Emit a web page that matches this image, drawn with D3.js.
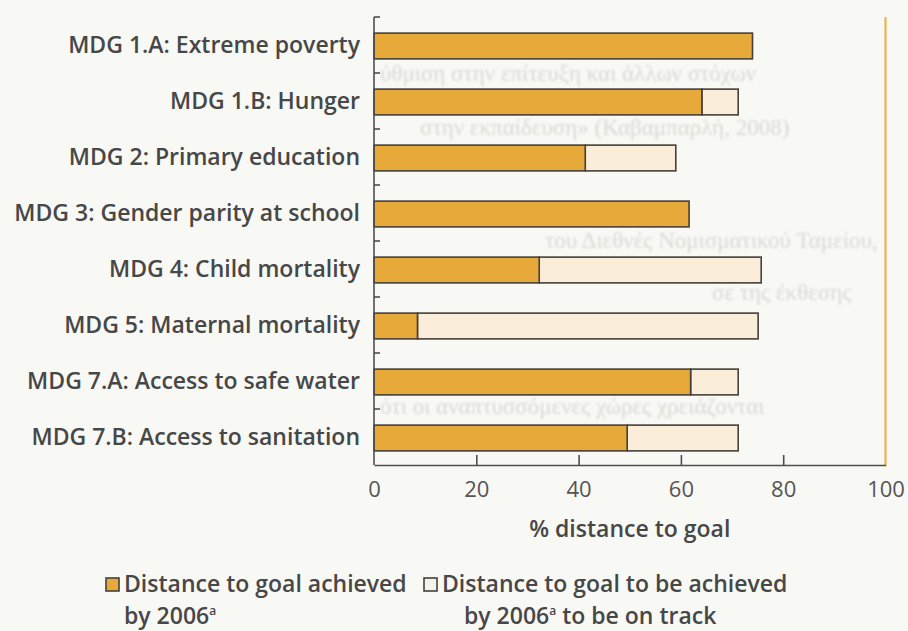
<!DOCTYPE html>
<html>
<head>
<meta charset="utf-8">
<script src="https://cdn.jsdelivr.net/npm/d3@7"></script>
<style>
  html, body { margin: 0; padding: 0; background: #f8f8f5; }
  svg { display: block; }
</style>
</head>
<body>
<svg id="chart" width="908" height="631"></svg>
<script>
// Millennium Development Goals: share of the distance to each goal covered by 2006
const categories = [
  "MDG 1.A: Extreme poverty",
  "MDG 1.B: Hunger",
  "MDG 2: Primary education",
  "MDG 3: Gender parity at school",
  "MDG 4: Child mortality",
  "MDG 5: Maternal mortality",
  "MDG 7.A: Access to safe water",
  "MDG 7.B: Access to sanitation"
];

// % of distance to goal already achieved by 2006
const achieved = [74.0, 64.1, 41.3, 61.6, 32.3, 8.5, 61.9, 49.5];

// further % that should have been achieved by 2006 to be on track
const toBeAchieved = [0, 7.1, 17.7, 0, 43.4, 66.6, 9.3, 21.7];

const xTicks = [0, 20, 40, 60, 80, 100];
const xTitle = "% distance to goal";
const legendLines = [
  ["Distance to goal achieved", "by 2006"],
  ["Distance to goal to be achieved", "by 2006", " to be on track"]
];

// faint lines of text showing through the paper, between the bars
const showThrough = [
  ["ύθμιση στην επίτευξη και άλλων στόχων", 380, 81],
  ["στην εκπαίδευση» (Καβαμπαρλή, 2008)", 420, 135],
  ["του Διεθνές Νομισματικού Ταμείου,", 545, 248],
  ["σε της έκθεσης", 712, 300],
  ["ότι οι αναπτυσσόμενες χώρες χρειάζονται", 380, 414]
];

const colAchieved = "#e6a93a";
const colToBe = "#faeedb";
const colStroke = "#45403a";
const colText = "#474747";
const font = "'Open Sans', 'DejaVu Sans', sans-serif";
const fontSize = 23;

const svg = d3.select("#chart");

// paper
svg.append("rect").attr("width", 908).attr("height", 631).attr("fill", "#f8f8f5");

const defs = svg.append("defs");
defs.append("filter").attr("id", "soft")
  .append("feGaussianBlur").attr("stdDeviation", 0.8);

svg.append("g")
  .attr("filter", "url(#soft)")
  .selectAll("text")
  .data(showThrough)
  .join("text")
  .attr("x", d => d[1])
  .attr("y", d => d[2])
  .attr("font-family", "'Liberation Serif', serif")
  .attr("font-size", 23)
  .attr("fill", "#d9d9d5")
  .text(d => d[0]);

const plot = { left: 374, right: 885.5, top: 17, bottom: 465 };

const x = d3.scaleLinear().domain([0, 100]).range([plot.left, plot.right]);
const y = d3.scaleBand()
  .domain(categories)
  .range([plot.top + 1, plot.bottom + 1])
  .paddingInner(0.54)
  .paddingOuter(0.27);

const rows = categories.map((c, i) => ({ c, a: achieved[i], b: toBeAchieved[i] }));

// remaining segment first so the achieved segment's outline sits on top
const g = svg.append("g");
g.selectAll("rect.tobe")
  .data(rows.filter(d => d.b > 0))
  .join("rect")
  .attr("class", "tobe")
  .attr("x", d => x(d.a))
  .attr("y", d => y(d.c))
  .attr("width", d => x(d.a + d.b) - x(d.a))
  .attr("height", y.bandwidth())
  .attr("fill", colToBe)
  .attr("stroke", colStroke)
  .attr("stroke-width", 1.6);

g.selectAll("rect.ach")
  .data(rows)
  .join("rect")
  .attr("class", "ach")
  .attr("x", x(0))
  .attr("y", d => y(d.c))
  .attr("width", d => x(d.a) - x(0))
  .attr("height", y.bandwidth())
  .attr("fill", colAchieved)
  .attr("stroke", colStroke)
  .attr("stroke-width", 1.6);

// orange rule at the right of the plot
svg.append("line")
  .attr("x1", x(100)).attr("x2", x(100))
  .attr("y1", plot.top).attr("y2", plot.bottom + 1)
  .attr("stroke", "#e9b552").attr("stroke-width", 2.2);

// y axis: line, inward ticks between bands, category labels
const step = y.step();
const boundaries = d3.range(categories.length).map(i => plot.top + i * step);
svg.append("line")
  .attr("x1", plot.left).attr("x2", plot.left)
  .attr("y1", plot.top).attr("y2", plot.bottom)
  .attr("stroke", "#4e4e4e").attr("stroke-width", 1.6);
svg.append("g").selectAll("line")
  .data(boundaries)
  .join("line")
  .attr("x1", plot.left).attr("x2", plot.left + 6)
  .attr("y1", d => d).attr("y2", d => d)
  .attr("stroke", "#4e4e4e").attr("stroke-width", 1.6);

const yAxis = svg.append("g")
  .attr("transform", `translate(${plot.left},0)`)
  .call(d3.axisLeft(y).tickSize(0).tickPadding(14));
yAxis.select(".domain").remove();
yAxis.selectAll("text")
  .attr("font-family", font)
  .attr("font-size", fontSize)
  .attr("font-weight", 600)
  .attr("fill", colText);

// x axis with ticks pointing up into the plot
const xAxis = svg.append("g")
  .attr("transform", `translate(0,${plot.bottom})`)
  .call(d3.axisBottom(x).tickValues(xTicks).tickSizeInner(-10).tickSizeOuter(0).tickPadding(16));
xAxis.select(".domain").attr("stroke", "#4e4e4e").attr("stroke-width", 1.6);
xAxis.selectAll(".tick line").attr("stroke", "#4e4e4e").attr("stroke-width", 1.6);
xAxis.selectAll(".tick").filter(d => d === 0 || d === 100).select("line").remove();
xAxis.selectAll("text")
  .attr("font-family", font)
  .attr("font-size", 22)
  .attr("fill", "#555");

svg.append("text")
  .attr("x", (plot.left + plot.right) / 2)
  .attr("y", 537)
  .attr("text-anchor", "middle")
  .attr("font-family", font)
  .attr("font-size", fontSize)
  .attr("font-weight", 600)
  .attr("fill", colText)
  .text(xTitle);

// legend
const legendX = [106, 424];
const legendFill = [colAchieved, "#f6f2ec"];
legendLines.forEach((lines, i) => {
  const lg = svg.append("g");
  lg.append("rect")
    .attr("x", legendX[i]).attr("y", 578)
    .attr("width", 13).attr("height", 13)
    .attr("fill", legendFill[i])
    .attr("stroke", colStroke).attr("stroke-width", 1.6);
  const t = lg.append("text")
    .attr("font-family", font)
    .attr("font-size", fontSize)
    .attr("font-weight", 600)
    .attr("fill", colText);
  t.append("tspan").attr("x", legendX[i] + 18).attr("y", 592).text(lines[0]);
  const indent = i === 0 ? 18 : 40;
  t.append("tspan").attr("x", legendX[i] + indent).attr("y", 624).text(lines[1]);
  t.append("tspan").attr("dy", -9).attr("font-size", 12).text("a");
  if (lines[2]) t.append("tspan").attr("dy", 9).text(lines[2]);
});
</script>
</body>
</html>
